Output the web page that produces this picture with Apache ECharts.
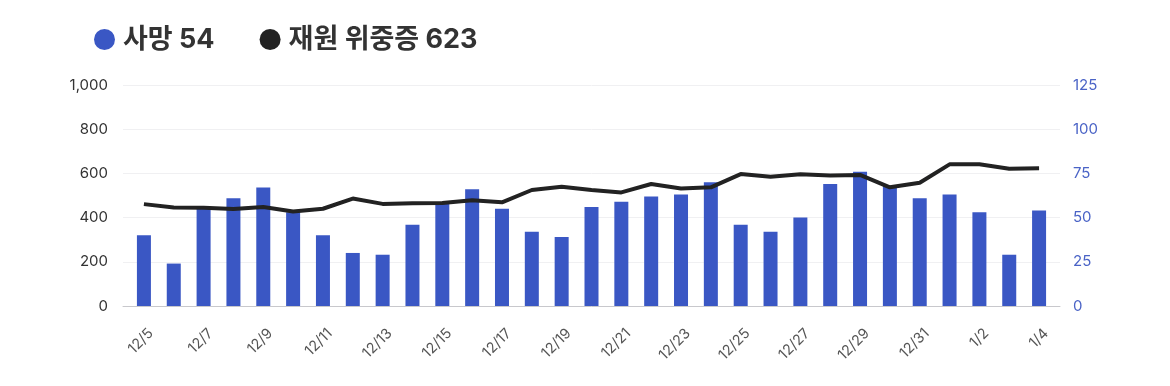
<!DOCTYPE html>
<html><head><meta charset="utf-8">
<script src="https://cdn.jsdelivr.net/npm/echarts@6/dist/echarts.min.js"></script>
<style>html,body{margin:0;padding:0;background:#fff}#c{width:1170px;height:386px}</style>
</head><body><div id="c"></div>
<script>
const categories = ['12/5','12/6','12/7','12/8','12/9','12/10','12/11','12/12','12/13','12/14','12/15','12/16','12/17','12/18','12/19','12/20','12/21','12/22','12/23','12/24','12/25','12/26','12/27','12/28','12/29','12/30','12/31','1/1','1/2','1/3','1/4'];
const deaths = [40,24,55,61,67,53,40,30,29,46,58,66,55,42,39,56,59,62,63,70,46,42,50,69,76,68,61,63,53,29,54];
const severe = [461,446,445,439,448,428,440,486,462,465,466,478,469,525,540,525,514,552,532,537,597,585,596,590,593,537,558,641,641,621,623];
const leftTicks = {min:0, max:1000, interval:200};
const rightTicks = {min:0, max:125, interval:25};
const nameDeaths = '사망';
const nameSevere = '재원 위중증';

const chart = echarts.init(document.getElementById('c'));
const font = 'Inter, "Noto Sans CJK KR", "Noto Sans", sans-serif';
const lastOf = {};
lastOf[nameDeaths] = deaths[deaths.length-1];
lastOf[nameSevere] = severe[severe.length-1];
const hidden = {axisLine:{show:false}, axisTick:{show:false}, axisLabel:{show:false}, splitLine:{show:false}};
chart.setOption({
  animation:false,
  textStyle:{fontFamily:font},
  legend:{
    left:89, top:21, itemWidth:21, itemHeight:21, itemGap:45, icon:'circle',
    data:[nameDeaths, nameSevere],
    formatter: n => n + ' ' + lastOf[n],
    textStyle:{fontSize:27, fontWeight:'bold', color:'#333', fontFamily:font, padding:[0,0,0,3]}
  },
  grid:[
    {left:123, right:110, top:85, bottom:80},
    {left:129, right:116, top:85, bottom:80},
    {left:136, right:109, top:85, bottom:80}
  ],
  xAxis:[
    {gridIndex:0, type:'category', data:categories, axisLine:{lineStyle:{color:'#c8c8cc'}}, axisTick:{show:false}, axisLabel:{show:false}},
    {gridIndex:1, type:'category', data:categories, boundaryGap:true, ...hidden},
    {gridIndex:2, type:'category', data:categories, boundaryGap:true,
     axisLine:{show:false}, axisTick:{show:false},
     axisLabel:{interval:1, rotate:45, color:'#555', fontSize:14.5, margin:25, fontFamily:font}}
  ],
  yAxis:[
    {gridIndex:0, type:'value', position:'left', ...leftTicks,
     axisLabel:{color:'#333', fontSize:15, margin:15, fontFamily:font, formatter:v=>v.toLocaleString('en-US')},
     splitLine:{lineStyle:{color:'#f0f0f2'}}, axisLine:{show:false}, axisTick:{show:false}},
    {gridIndex:0, type:'value', position:'right', ...rightTicks,
     axisLabel:{color:'#4a63c6', fontSize:15, margin:13, fontFamily:font, align:'left'},
     splitLine:{show:false}, axisLine:{show:false}, axisTick:{show:false}},
    {gridIndex:1, type:'value', ...leftTicks, ...hidden},
    {gridIndex:1, type:'value', position:'right', ...rightTicks, ...hidden},
    {gridIndex:2, type:'value', ...leftTicks, ...hidden}
  ],
  series:[
    {name:nameDeaths, type:'bar', xAxisIndex:1, yAxisIndex:3, data:deaths, barWidth:14,
     itemStyle:{color:'#3a57c4'}},
    {name:nameSevere, type:'line', xAxisIndex:1, yAxisIndex:2, data:severe, symbol:'none',
     lineStyle:{color:'#222', width:4}, itemStyle:{color:'#222'}, z:5}
  ]
});
</script>
</body></html>
